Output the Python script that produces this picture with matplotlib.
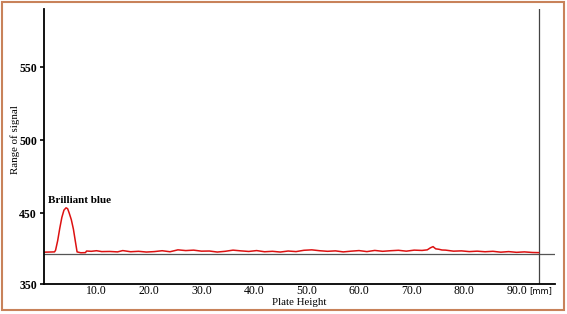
import numpy as np
import matplotlib.pyplot as plt
from matplotlib.patches import Rectangle

plt.rcParams['font.family'] = ['Liberation Serif', 'DejaVu Serif']

# Densitogram trace: plate position (mm) and signal
pos_mm = [0.0, 1.0, 2.0, 2.2, 2.6, 3.0, 3.4, 3.8, 4.2, 4.5, 4.8, 5.2, 5.6, 6.0, 6.3,
          7.0, 7.9, 8.1, 9.0, 10.0, 11.0, 12.5, 14.0, 15.0, 16.5, 18.0, 19.5, 21.0,
          22.5, 24.0, 25.5, 27.0, 28.5, 30.0, 31.5, 33.0, 34.5, 36.0, 37.5, 39.0,
          40.5, 42.0, 43.5, 45.0, 46.5, 48.0, 49.5, 51.0, 52.5, 54.0, 55.5, 57.0,
          58.5, 60.0, 61.5, 63.0, 64.5, 66.0, 67.5, 69.0, 70.5, 72.0, 73.0, 73.6,
          74.1, 74.6, 75.2, 75.8, 76.5, 78.0, 79.5, 81.0, 82.5, 84.0, 85.5, 87.0,
          88.5, 90.0, 91.5, 93.0, 94.2]
signal = [423.2, 423.3, 423.4, 424.5, 431.0, 439.5, 447.0, 452.0, 453.6, 453.0, 450.0,
          445.5, 439.0, 430.0, 423.4, 422.8, 422.9, 424.0, 423.8, 424.2, 423.6, 423.7,
          423.4, 424.3, 423.5, 423.8, 423.3, 423.6, 424.2, 423.5, 424.8, 424.3, 424.6,
          423.9, 424.0, 423.3, 423.8, 424.6, 424.1, 423.7, 424.3, 423.5, 423.8, 423.3,
          424.0, 423.6, 424.5, 424.8, 424.2, 423.8, 424.1, 423.4, 423.9, 424.3, 423.6,
          424.4, 423.8, 424.2, 424.5, 423.9, 424.6, 424.4, 424.8, 426.2, 427.0, 425.5,
          425.2, 424.7, 424.6, 423.9, 424.1, 423.6, 423.9, 423.5, 423.8, 423.2, 423.6,
          423.1, 423.4, 423.0, 422.9]

baseline = 421.9
x_ticks = [10, 20, 30, 40, 50, 60, 70, 80, 90]
x_labels = ['10.0', '20.0', '30.0', '40.0', '50.0', '60.0', '70.0', '80.0', '90.0']
y_ticks = [401.4, 450, 500, 550]
y_labels = ['350', '450', '500', '550']

fig = plt.figure(figsize=(5.67, 3.14), dpi=100)
ax = fig.add_axes([0.0776, 0.0955, 0.901, 0.8755])

ax.axhline(baseline, color='#555555', lw=0.9)
ax.axvline(94.2, color='#444444', lw=0.9)
ax.plot(pos_mm, signal, color='#dd1111', lw=1.1)

ax.set_xlim(0, 97.3)
ax.set_ylim(401.4, 589.7)
ax.set_xticks(x_ticks)
ax.set_xticklabels(x_labels, fontsize=8.5)
ax.set_yticks(y_ticks)
ax.set_yticklabels(y_labels, fontsize=8.5, fontweight='bold')
ax.tick_params(axis='x', length=0, pad=0.5)
ax.tick_params(axis='y', length=3, width=1.2, pad=2)

for s in ['top', 'right']:
    ax.spines[s].set_visible(False)
for s in ['left', 'bottom']:
    ax.spines[s].set_linewidth(1.3)

ax.set_xlabel('Plate Height', fontsize=7.8)
ax.xaxis.set_label_coords(0.5, -0.05)
ax.set_ylabel('Range of signal', fontsize=7.8)
ax.yaxis.set_label_coords(-0.047, 0.527)
ax.text(6.8, 455.5, 'Brilliant blue', fontsize=8, fontweight='bold',
        ha='center', va='bottom')
fig.text(541 / 567, 1 - 291 / 314, '[mm]', fontsize=6, ha='center', va='center',
         family='DejaVu Sans')

fig.patches.append(Rectangle((0.004, 0.013), 0.990, 0.980, transform=fig.transFigure,
                             fill=False, edgecolor='#c8825a', lw=1.5))

fig.savefig('out.png', dpi=100)
